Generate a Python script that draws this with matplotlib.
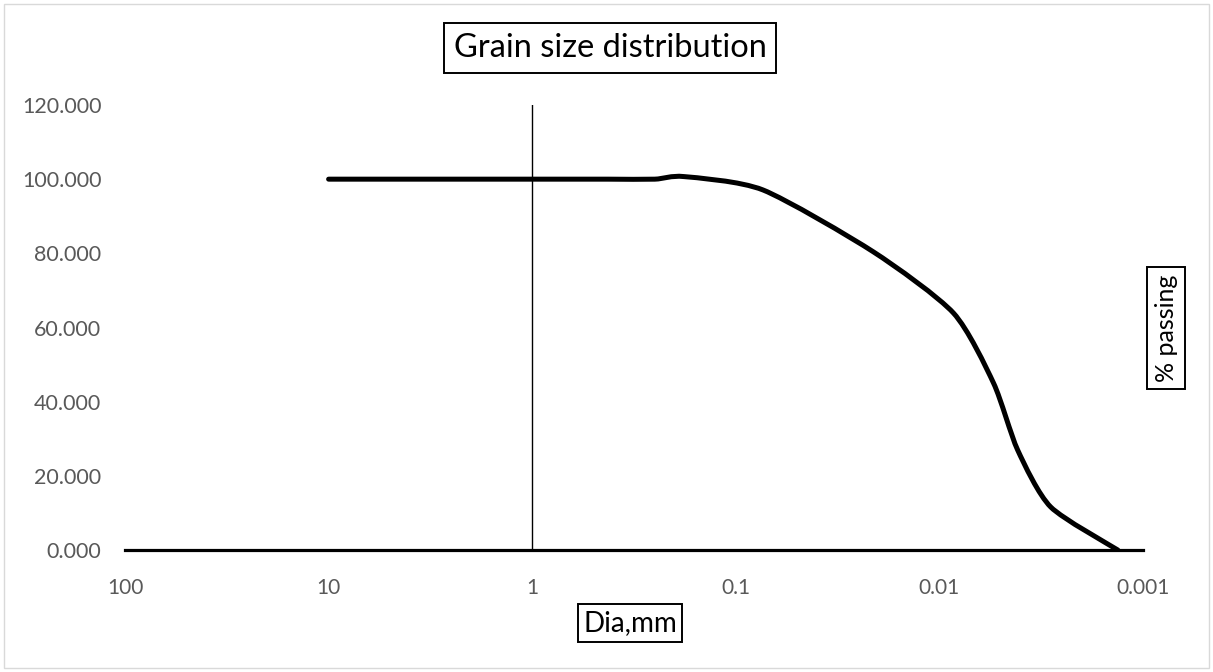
import numpy as np
import matplotlib
matplotlib.use("Agg")
import matplotlib.pyplot as plt
from matplotlib.path import Path
from matplotlib.patches import PathPatch, Rectangle

# grain size data
dia_mm = [10, 4.75, 2, 0.85, 0.425, 0.25, 0.18, 0.0736, 0.0211, 0.00853,
          0.00542, 0.00413, 0.00284, 0.00133]
pct_passing = [100, 100, 100, 100, 100, 100, 100.7, 97.1, 80.4, 63.9,
               45.0, 27.0, 11.6, 0.0]
x_ticks = [100, 10, 1, 0.1, 0.01, 0.001]
x_ticklabels = ["100", "10", "1", "0.1", "0.01", "0.001"]
y_ticks = [0, 20, 40, 60, 80, 100, 120]

plt.rcParams['font.family'] = ['Lato', 'DejaVu Sans']
NARROW = ['Liberation Sans Narrow', 'Lato', 'DejaVu Sans']
GREY = "#595959"


def smooth_path(xs, ys, k=0.12):
    # Excel-like smoothed line: cubic bezier through points in (log x, y)
    u = np.log10(xs)
    v = np.asarray(ys, float)
    n = len(u)
    verts = [(xs[0], v[0])]
    codes = [Path.MOVETO]
    for i in range(n - 1):
        i0, i3 = max(i - 1, 0), min(i + 2, n - 1)
        c1 = (u[i] + (u[i + 1] - u[i0]) * k, v[i] + (v[i + 1] - v[i0]) * k)
        c2 = (u[i + 1] - (u[i3] - u[i]) * k, v[i + 1] - (v[i3] - v[i]) * k)
        verts += [(10 ** c1[0], c1[1]), (10 ** c2[0], c2[1]), (xs[i + 1], v[i + 1])]
        codes += [Path.CURVE4] * 3
    return Path(verts, codes)


fig = plt.figure(figsize=(12.13, 6.72), dpi=100)
fig.patches.append(Rectangle((4 / 1213, 4 / 672), 1205 / 1213, 664 / 672,
                             transform=fig.transFigure, fill=False,
                             edgecolor="#d9d9d9", lw=1))
ax = fig.add_axes([125 / 1213, 122 / 672, 1018 / 1213, 445 / 672])

ax.set_xscale("log")
ax.set_xlim(100, 0.001)
ax.set_ylim(0, 120)

for s in ["top", "right", "left"]:
    ax.spines[s].set_visible(False)
ax.spines["bottom"].set_linewidth(2.3)

ax.axvline(1, color="black", lw=1)

ax.add_patch(PathPatch(smooth_path(dia_mm, pct_passing), fill=False,
                       edgecolor="black", lw=3.6, capstyle="round",
                       joinstyle="round", zorder=3))

ax.set_xticks(x_ticks)
ax.set_xticklabels(x_ticklabels, family=NARROW)
ax.xaxis.set_minor_locator(matplotlib.ticker.NullLocator())
ax.set_yticks(y_ticks)
ax.set_yticklabels([f"{t:.3f}" for t in y_ticks])
ax.tick_params(axis="x", length=0, pad=20, labelsize=15, labelcolor=GREY)
ax.tick_params(axis="y", length=0, pad=17, labelsize=15.5, labelcolor=GREY)

box = dict(boxstyle="square,pad=0.3", fc="white", ec="black", lw=1.4)
fig.text(610 / 1213, 1 - 48 / 672, "Grain size distribution", ha="center",
         va="center", fontsize=23.5, bbox=box)
fig.text(630 / 1213, 1 - 623 / 672, "Dia,mm", ha="center", va="center",
         fontsize=20, family=NARROW,
         bbox=dict(boxstyle="square,pad=0.2", fc="white", ec="black", lw=1.4))
fig.text(1166 / 1213, 1 - 328 / 672, "% passing", ha="center", va="center",
         fontsize=18, rotation=90,
         bbox=dict(boxstyle="square,pad=0.3", fc="white", ec="black", lw=1.4))

fig.savefig("out.png", dpi=100)
